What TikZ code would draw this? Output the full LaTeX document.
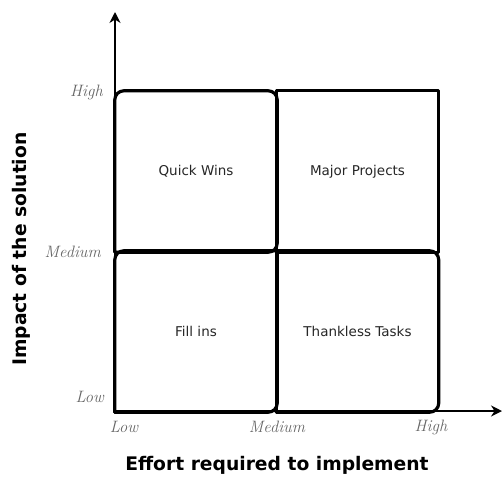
\documentclass[tikz,border=0pt]{standalone}
\usepackage{fontspec}
\setmainfont{DejaVu Sans}
\usetikzlibrary{arrows.meta}
\tikzset{
  quad/.style={minimum width=162pt, minimum height=161pt, inner sep=0pt, font=\fontsize{13.5}{16}\selectfont, text=black!85},
  box/.style={line width=3.2pt, line cap=round, line join=round},
  axis/.style={line width=2.2pt, -{Stealth[length=11pt,width=11pt]}},
  tick/.style={font=\fontfamily{lmr}\itshape\fontsize{16.5}{18}\selectfont, text=black!60, inner sep=0pt},
  axlabel/.style={font=\bfseries\fontsize{18.7}{21}\selectfont, inner sep=0pt}
}
\begin{document}
\begin{tikzpicture}[x=1pt,y=-1pt]
\useasboundingbox (0,0) rectangle (502,477);
\node[quad] (qw) at (196,171.5) {Quick Wins};
\node[quad] (mp) at (357.5,171.5) {Major Projects};
\node[quad] (fi) at (196,331.5) {Fill ins};
\node[quad] (tt) at (357.5,331.5) {Thankless Tasks};
\coordinate (o) at (115,411);
\coordinate (ytip) at (115,12);
\coordinate (xtip) at (502,411);
% axes
\draw[axis] (o) -- (ytip);
\draw[axis] (o) -- (xtip);
% Quick Wins: NW, NE, SE rounded
\draw[box, rounded corners=9pt] (qw.south west) -- (qw.north west) -- (qw.north east) -- (qw.south east) -- (qw.south west);
% Major Projects: sharp
\draw[box] (mp.south west) rectangle (mp.north east);
% Fill ins: NW and SE rounded
\draw[box, rounded corners=9pt] (fi.north east) -- (fi.north west) -- (fi.south west);
\draw[box, rounded corners=9pt] (fi.south west) -- (fi.south east) -- (fi.north east);
% Thankless: NE, SE rounded
\draw[box, rounded corners=9pt] (tt.north west) -- (tt.north east) -- (tt.south east) -- (tt.south west);
\draw[box] (tt.north west) -- (tt.south west);
% tick labels
\node[tick, anchor=east] (yh) at (103,92) {High};
\node[tick, anchor=east] (ym) at (101,252) {Medium};
\node[tick, anchor=east] (yl) at (104,397) {Low};
\node[tick] (xl) at (124,427) {Low};
\node[tick] (xm) at (277,427) {Medium};
\node[tick] (xh) at (431,427) {High};
% axis titles
\node[axlabel] (xt) at (277,465) {Effort required to implement};
\node[axlabel, rotate=90] (yt) at (21,249) {Impact of the solution};
\end{tikzpicture}
\end{document}
